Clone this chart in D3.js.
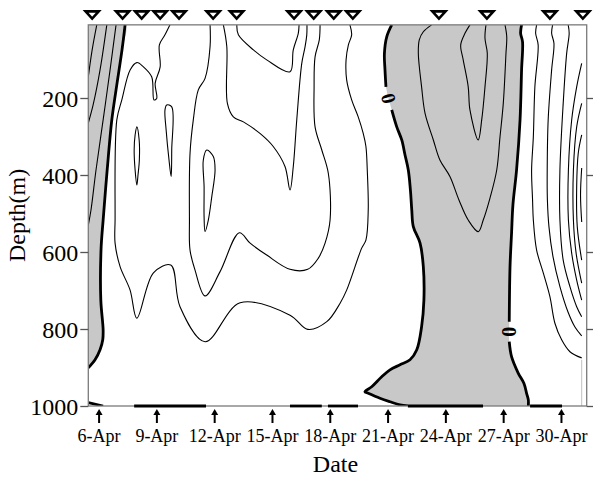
<!DOCTYPE html>
<html>
<head>
<meta charset="utf-8">
<script src="https://cdn.jsdelivr.net/npm/d3@7"></script>
<style>
  html, body { margin: 0; padding: 0; background: #fff; }
  svg { display: block; }
</style>
</head>
<body>
<svg id="chart" width="593" height="477"></svg>
<script>
// ---- Axis ticks -------------------------------------------------------
const tickDays   = [6, 9, 12, 15, 18, 21, 24, 27, 30];           // day of April
const tickLabels = ["6-Apr", "9-Apr", "12-Apr", "15-Apr", "18-Apr",
                    "21-Apr", "24-Apr", "27-Apr", "30-Apr"];
const depthTicks = [200, 400, 600, 800, 1000];

// Sampling times marked along the top (day of April, >30 runs into May)
const stationDays = [5.64, 7.22, 8.21, 9.17, 10.15, 11.92, 13.14, 16.12,
                     17.14, 18.18, 19.17, 23.64, 26.13, 29.40, 31.11];

// ---- Contour lines: [day of April, depth in m] --------------------------
// western negative pool
const negWest3 = [[5.88,10],[5.64,75],[5.44,145]];
const negWest2 = [[6.40,10],[6.05,127],[5.69,218],[5.44,265]];
const negWest1 = [[6.88,10],[6.57,127],[6.21,257],[5.84,387],[5.58,491],[5.44,530]];
const zeroWest = [[7.35,10],[7.19,75],[6.88,179],[6.66,257],[6.42,387],[6.21,517],
                  [6.10,595],[6.09,725],[6.21,802],[6.19,828],[6.05,854],[5.79,880],[5.44,901]];
const zeroCorner = [[5.44,991],[6.21,1000]];

// positive tongue between the two pools
const posMid1 = [[9.68,10],[9.42,36],[9.13,62],[9.17,119],[8.91,162],[8.99,201],[8.85,205],
                 [8.73,145],[8.30,119],[7.96,108],[7.61,127],[7.18,205],[6.92,257],[6.83,517],
                 [6.83,577],[7.09,638],[7.61,699],[7.96,772],[8.82,654],[9.72,634],[10.20,742],
                 [11.50,833],[13.32,732],[15.91,764],[16.83,801],[17.82,781],[18.51,733],
                 [18.85,699],[19.63,590],[19.85,569],[19.97,491],[19.92,387],[19.85,326],
                 [19.71,292],[19.45,249],[19.11,205],[18.85,153],[18.82,101],[18.94,62],
                 [19.11,36],[19.02,10]];
const posMid2 = [[11.76,10],[11.76,67],[11.50,149],[11.15,179],[10.89,257],[10.72,344],
                 [10.69,517],[10.72,595],[10.98,647],[11.50,714],[12.28,651],[13.28,550],
                 [13.84,577],[14.70,608],[15.91,645],[16.83,645],[17.38,616],[17.73,577],
                 [17.99,517],[17.90,396],[17.56,335],[17.21,275],[17.16,171],[17.21,93],
                 [17.43,49],[17.47,10]];
const posMid3 = [[12.45,10],[12.63,67],[12.66,214],[12.97,249],[13.49,262],[14.35,292],
                 [15.04,326],[15.65,378],[15.91,439],[16.08,378],[16.26,257],[16.52,110],
                 [16.69,67],[16.78,36],[16.79,10]];
const posMid4 = [[13.15,10],[13.23,36],[14.01,75],[14.70,101],[15.91,132],[16.08,75],
                 [16.34,32],[16.38,10]];
// closed cells
const cellA = [[7.96,275],[8.08,309],[8.09,361],[8.02,400],[7.96,426],[7.87,387],[7.82,335],[7.87,296]];
const cellB = [[9.51,218],[9.77,223],[9.77,335],[9.74,404],[9.63,361],[9.48,283],[9.42,231]];
const cellC = [[11.59,335],[11.93,352],[12.02,387],[11.85,456],[11.67,517],[11.50,547],
               [11.45,508],[11.45,430],[11.41,361]];

// eastern negative pool (zero line broken where it is labelled)
const zeroEastL1 = [[21.19,10],[20.93,41],[20.81,84],[20.84,127],[20.89,171]];
const zeroEastL2 = [[21.19,231],[21.45,275],[21.71,309],[21.88,348],[22.05,387],[22.16,439],
                    [22.23,491],[22.31,534],[22.66,577],[22.83,638],[22.86,725],[22.74,794],
                    [22.49,854],[22.14,880],[21.62,893],[21.10,906],[20.67,924],[20.15,950],
                    [19.80,963],[19.97,967],[20.58,980],[21.10,989],[21.62,997],[22.03,1000]];
const zeroEastR1 = [[27.93,10],[27.88,32],[27.98,54],[27.93,127],[27.85,257],[27.67,387],
                    [27.48,478],[27.41,551],[27.33,638],[27.29,781]];
const zeroEastR2 = [[27.29,833],[27.41,872],[27.76,915],[28.05,941],[28.19,967],[28.28,984],[28.28,1000]];
const negEast1 = [[23.26,10],[22.83,28],[22.62,49],[22.57,84],[22.74,171],[22.92,240],[23.35,309],
                  [23.69,361],[24.21,404],[24.68,465],[25.16,517],[25.68,547],[25.94,517],
                  [26.29,460],[26.64,387],[26.81,301],[26.98,214],[27.12,84],[27.16,41],[27.07,10]];
const negEast2 = [[25.25,10],[24.99,32],[24.77,62],[24.90,101],[25.16,171],[25.25,231],[25.68,309],
                  [25.86,257],[26.03,171],[26.15,84],[26.03,45],[26.08,10]];

// positive core at the end of the record
const posEast1 = [[28.71,10],[28.66,32],[28.79,62],[28.62,171],[28.54,301],[28.45,387],[28.50,465],
                  [28.54,517],[28.71,595],[29.06,655],[29.40,716],[29.66,785],[30.01,828],
                  [30.44,859],[31.05,875]];
const posEast2 = [[29.54,10],[29.49,32],[29.61,58],[29.49,127],[29.31,257],[29.26,387],[29.27,465],
                  [29.35,534],[29.56,612],[29.92,690],[30.34,756],[30.70,795],[31.05,818]];
const posEast3 = [[30.35,10],[30.40,32],[30.27,84],[30.09,214],[29.92,387],[29.92,517],[30.09,621],
                  [30.44,690],[30.79,742],[31.05,768]];
const posEast4 = [[31.05,110],[30.79,171],[30.53,257],[30.36,387],[30.36,517],[30.53,603],
                  [30.79,673],[31.05,725]];
const posEast5 = [[31.05,214],[30.79,275],[30.62,387],[30.62,517],[30.76,603],[31.05,681]];
const posEast6 = [[31.05,296],[30.87,344],[30.79,430],[30.82,534],[31.05,621]];
const posEast7 = [[31.05,382],[30.99,452],[31.05,522]];

// stretches where the zero line runs along the 1000 m floor: [from day, to day]
const zeroFloor = [[7.82,11.55],[15.91,17.56],[17.88,19.44],[22.03,25.93],[28.37,30.03]];
const recordEnd = 31.05;   // last day with data

// ---- Scales ------------------------------------------------------------
const x = d3.scaleLinear().domain([5.44, 31.31]).range([88.3, 586.7]);
const y = d3.scaleLinear().domain([10, 1000]).range([24.85, 406]);

const svg = d3.select("#chart");
const serif = "'Liberation Serif', 'Times New Roman', serif";

svg.append("defs").append("clipPath").attr("id", "plot-clip")
  .append("rect")
  .attr("x", x.range()[0]).attr("y", y.range()[0])
  .attr("width", x.range()[1] - x.range()[0])
  .attr("height", y.range()[1] - y.range()[0]);

const plot = svg.append("g").attr("clip-path", "url(#plot-clip)");

const smooth = d3.line().x(d => x(d[0])).y(d => y(d[1])).curve(d3.curveCatmullRom.alpha(0.5));
const smoothClosed = d3.line().x(d => x(d[0])).y(d => y(d[1])).curve(d3.curveCatmullRomClosed.alpha(0.5));

// ---- Shaded negative areas -------------------------------------------
const shadeWest = [[x.domain()[0], 10]].concat(zeroWest);
const shadeEast = zeroEastL1.concat(zeroEastL2, zeroEastR2.slice().reverse(), zeroEastR1.slice().reverse());
plot.selectAll("path.shade")
  .data([shadeWest, shadeEast])
  .join("path")
  .attr("class", "shade")
  .attr("d", d => smooth(d) + "Z")
  .attr("fill", "#c8c8c8")
  .attr("stroke", "none");

// ---- Thin contour lines ---------------------------------------------
const thinLines = [
  { level: -3, pts: negWest3 }, { level: -2, pts: negWest2 }, { level: -1, pts: negWest1 },
  { level: 1, pts: posMid1 }, { level: 2, pts: posMid2 }, { level: 3, pts: posMid3 }, { level: 4, pts: posMid4 },
  { level: -1, pts: negEast1 }, { level: -2, pts: negEast2 },
  { level: 1, pts: posEast1 }, { level: 2, pts: posEast2 }, { level: 3, pts: posEast3 },
  { level: 4, pts: posEast4 }, { level: 5, pts: posEast5 }, { level: 6, pts: posEast6 }, { level: 7, pts: posEast7 }
];
const cells = [{ level: 2, pts: cellA }, { level: 2, pts: cellB }, { level: 3, pts: cellC }];

plot.selectAll("path.thin")
  .data(thinLines)
  .join("path")
  .attr("class", "thin")
  .attr("d", d => smooth(d.pts))
  .attr("fill", "none").attr("stroke", "#000").attr("stroke-width", 1.1);

plot.selectAll("path.cell")
  .data(cells)
  .join("path")
  .attr("class", "cell")
  .attr("d", d => smoothClosed(d.pts))
  .attr("fill", "none").attr("stroke", "#000").attr("stroke-width", 1.1);

// ---- Zero contour (bold) ---------------------------------------------
const zeroLines = [zeroWest, zeroCorner, zeroEastL1, zeroEastL2, zeroEastR1, zeroEastR2];
plot.selectAll("path.zero")
  .data(zeroLines)
  .join("path")
  .attr("class", "zero")
  .attr("d", d => smooth(d))
  .attr("fill", "none").attr("stroke", "#000").attr("stroke-width", 2.8)
  .attr("stroke-linejoin", "round");

// record end marker
svg.append("line")
  .attr("x1", x(recordEnd)).attr("x2", x(recordEnd))
  .attr("y1", y(880)).attr("y2", y(1000))
  .attr("stroke", "#c0c0c0").attr("stroke-width", 1);

// ---- Frame ------------------------------------------------------------
svg.append("rect")
  .attr("x", x.range()[0]).attr("y", y.range()[0])
  .attr("width", x.range()[1] - x.range()[0])
  .attr("height", y.range()[1] - y.range()[0])
  .attr("fill", "none").attr("stroke", "#7a7a7a").attr("stroke-width", 1.3);

// zero line lying on the floor
svg.selectAll("line.floor")
  .data(zeroFloor)
  .join("line")
  .attr("class", "floor")
  .attr("x1", d => x(d[0])).attr("x2", d => x(d[1]))
  .attr("y1", y(1000)).attr("y2", y(1000))
  .attr("stroke", "#000").attr("stroke-width", 2.8);

// ---- "0" labels in the gaps of the zero line --------------------------
const zeroLabelGaps = [[zeroEastL1, zeroEastL2], [zeroEastR1, zeroEastR2]];
zeroLabelGaps.forEach(([a, b]) => {
  const p = a[a.length - 1], q = b[0];
  const x0 = x(p[0]), y0 = y(p[1]), x1 = x(q[0]), y1 = y(q[1]);
  const ang = Math.atan2(y1 - y0, x1 - x0) * 180 / Math.PI;
  svg.append("text")
    .attr("transform", `translate(${(x0 + x1) / 2},${(y0 + y1) / 2}) rotate(${ang})`)
    .attr("text-anchor", "middle")
    .attr("dominant-baseline", "central")
    .attr("font-family", serif).attr("font-weight", "bold").attr("font-size", 20)
    .text("0");
});

// ---- Depth axis (left, mirrored ticks on the right) --------------------
const yAxis = svg.append("g")
  .attr("transform", `translate(${x.range()[0]},0)`)
  .call(d3.axisLeft(y).tickValues(depthTicks).tickFormat(d3.format("d"))
          .tickSize(8).tickPadding(2).tickSizeOuter(0));
yAxis.select(".domain").remove();
yAxis.selectAll(".tick line").attr("stroke", "#555").attr("stroke-width", 1.3);
yAxis.selectAll(".tick text")
  .attr("font-family", serif).attr("font-size", 24).attr("fill", "#000")
  .attr("dy", "0.36em");

const yAxisR = svg.append("g")
  .attr("transform", `translate(${x.range()[1]},0)`)
  .call(d3.axisRight(y).tickValues(depthTicks).tickSize(7).tickFormat("").tickSizeOuter(0));
yAxisR.select(".domain").remove();
yAxisR.selectAll(".tick line").attr("stroke", "#555").attr("stroke-width", 1.3);

// ---- Date axis: arrow markers under the floor ---------------------------
const dateTicks = svg.append("g");
tickDays.forEach((d, i) => {
  const cx = x(d);
  dateTicks.append("path")
    .attr("d", `M${cx},409 L${cx + 3.5},415 L${cx - 3.5},415 Z`)
    .attr("fill", "#000");
  dateTicks.append("line")
    .attr("x1", cx).attr("x2", cx).attr("y1", 414).attr("y2", 423)
    .attr("stroke", "#000").attr("stroke-width", 2);
  dateTicks.append("text")
    .attr("x", cx).attr("y", 442)
    .attr("text-anchor", "middle")
    .attr("font-family", serif).attr("font-size", 18)
    .text(tickLabels[i]);
});

// ---- Sampling markers along the top ------------------------------------
svg.selectAll("path.station")
  .data(stationDays)
  .join("path")
  .attr("class", "station")
  .attr("d", d => `M${x(d) - 6.6},11.4 L${x(d) + 6.6},11.4 L${x(d)},18.6 Z`)
  .attr("fill", "#fff").attr("stroke", "#000").attr("stroke-width", 2.6)
  .attr("stroke-linejoin", "miter");

// ---- Axis titles -----------------------------------------------------------
svg.append("text")
  .attr("x", (x.range()[0] + x.range()[1]) / 2 - 2).attr("y", 472)
  .attr("text-anchor", "middle")
  .attr("font-family", serif).attr("font-size", 24)
  .text("Date");

svg.append("text")
  .attr("transform", `translate(25,${(y.range()[0] + y.range()[1]) / 2}) rotate(-90)`)
  .attr("text-anchor", "middle")
  .attr("font-family", serif).attr("font-size", 24)
  .text("Depth(m)");
</script>
</body>
</html>
